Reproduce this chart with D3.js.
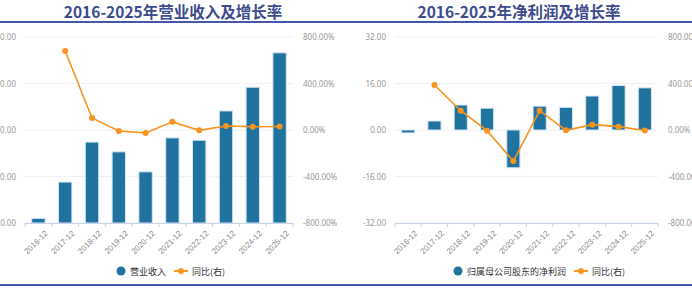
<!DOCTYPE html>
<html>
<head>
<meta charset="utf-8">
<script src="https://cdn.jsdelivr.net/npm/d3@7"></script>
<style>
  body { margin: 0; background: #fff; }
  svg { display: block; font-family: "Noto Sans", "Noto Sans CJK SC", sans-serif; }
</style>
</head>
<body>
<svg id="chart" width="692" height="288"></svg>
<script>
// data
const years = ['2016-12', '2017-12', '2018-12', '2019-12', '2020-12', '2021-12', '2022-12', '2023-12', '2024-12', '2025-12'];
const revenue = [1.0, 8.8, 17.4, 15.3, 11.0, 18.3, 17.8, 24.1, 29.2, 36.6];
const revenueYoY = [null, 680, 103, -8, -25, 70, -3, 35, 28, 30];
const profit = [-1.0, 3.1, 8.6, 7.5, -13.0, 8.2, 7.8, 11.7, 15.3, 14.5];
const profitYoY = [null, 387, 166, -6, -267, 166, -3, 46, 29, -4];
const revTicks = [0, 10, 20, 30, 40];
const profitTicks = [-32, -16, 0, 16, 32];
const pctTicks = [-800, -400, 0, 400, 800];

const blue = '#21739f';
const orange = '#f7931e';
const navy = '#4656a8';

const svg = d3.select('#chart');

// header/footer rules
svg.append('line').attr('x1', 0).attr('x2', 692).attr('y1', 22).attr('y2', 22)
    .attr('stroke', navy).attr('stroke-width', 2);
svg.append('line').attr('x1', 0).attr('x2', 692).attr('y1', 285).attr('y2', 285)
    .attr('stroke', navy).attr('stroke-width', 2);

const panels = [
    { title: '2016-2025年营业收入及增长率', cx: 173, left: 25, right: 293, bars: revenue, line: revenueYoY,
      ticks: revTicks, barName: '营业收入', legendX: 117 },
    { title: '2016-2025年净利润及增长率', cx: 519, left: 395, right: 658, bars: profit, line: profitYoY,
      ticks: profitTicks, barName: '归属母公司股东的净利润', legendX: 454 }
];

const plotTop = 37, plotBottom = 223;

panels.forEach(p => {
    const g = svg.append('g');

    g.append('text')
        .attr('x', p.cx).attr('y', 18)
        .attr('text-anchor', 'middle')
        .attr('font-family', '"Noto Sans CJK SC", sans-serif')
        .attr('font-weight', 'bold')
        .attr('font-size', 15.5)
        .attr('fill', '#3d4c8e')
        .text(p.title);

    const x = d3.scaleBand().domain(years).range([p.left, p.right]);
    const y = d3.scaleLinear().domain(d3.extent(p.ticks)).range([plotBottom, plotTop]);
    const y2 = d3.scaleLinear().domain(d3.extent(pctTicks)).range([plotBottom, plotTop]);

    // grid
    g.selectAll('.grid').data(p.ticks).enter().append('line')
        .attr('x1', p.left).attr('x2', p.right)
        .attr('y1', d => y(d)).attr('y2', d => y(d))
        .attr('stroke', '#eef0f4').attr('stroke-width', 1);

    // left labels
    g.selectAll('.yl').data(p.ticks).enter().append('text')
        .attr('x', p.left - 9).attr('y', d => y(d) + 3)
        .attr('text-anchor', 'end')
        .attr('font-size', 8).attr('fill', '#999')
        .text(d => d.toFixed(2));

    // right labels
    g.selectAll('.yr').data(pctTicks).enter().append('text')
        .attr('x', p.right + 10).attr('y', d => y2(d) + 3)
        .attr('font-size', 8).attr('fill', '#999')
        .text(d => d.toFixed(2) + '%');

    // bars
    const bw = x.bandwidth() * 0.5;
    g.selectAll('.bar').data(p.bars).enter().append('rect')
        .attr('x', (d, i) => x(years[i]) + (x.bandwidth() - bw) / 2)
        .attr('y', d => y(Math.max(0, d)))
        .attr('width', bw)
        .attr('height', d => Math.abs(y(d) - y(0)))
        .attr('fill', blue)
        .attr('stroke', '#d6e6f2').attr('stroke-width', 1);

    // x axis
    const xa = g.append('g').attr('transform', `translate(0,${plotBottom})`)
        .call(d3.axisBottom(x).tickSize(0).tickPadding(4));
    xa.select('.domain').attr('stroke', '#c9d3ee');
    xa.selectAll('.tick text')
        .attr('font-size', 8).attr('fill', '#888')
        .attr('text-anchor', 'end')
        .attr('transform', 'translate(3,4) rotate(-45)');
    const edges = years.map(d => x(d)).concat([p.right]);
    g.selectAll('.xt').data(edges).enter().append('line')
        .attr('x1', d => d).attr('x2', d => d)
        .attr('y1', plotBottom).attr('y2', plotBottom + 4)
        .attr('stroke', '#c9d3ee');

    // yoy line
    const pts = p.line.map((v, i) => ({ v, i })).filter(d => d.v !== null);
    g.append('path').datum(pts)
        .attr('fill', 'none').attr('stroke', orange).attr('stroke-width', 1.6)
        .attr('d', d3.line().x(d => x(years[d.i]) + x.bandwidth() / 2).y(d => y2(d.v)));
    g.selectAll('.dot').data(pts).enter().append('circle')
        .attr('cx', d => x(years[d.i]) + x.bandwidth() / 2)
        .attr('cy', d => y2(d.v))
        .attr('r', 3).attr('fill', orange);

    // legend
    const lg = g.append('g').attr('transform', `translate(${p.legendX},271)`);
    lg.append('circle').attr('cx', 4).attr('cy', 0).attr('r', 4.5).attr('fill', blue);
    const t1 = lg.append('text').attr('x', 13).attr('y', 3.5)
        .attr('font-family', '"Noto Sans CJK SC", sans-serif')
        .attr('font-size', 9).attr('fill', '#333').text(p.barName);
    const w = t1.node().getComputedTextLength();
    const ox = 13 + w + 8;
    lg.append('line').attr('x1', ox).attr('x2', ox + 14).attr('y1', 0).attr('y2', 0)
        .attr('stroke', orange).attr('stroke-width', 2);
    lg.append('circle').attr('cx', ox + 7).attr('cy', 0).attr('r', 3).attr('fill', orange);
    lg.append('text').attr('x', ox + 18).attr('y', 3.5)
        .attr('font-family', '"Noto Sans CJK SC", sans-serif')
        .attr('font-size', 9).attr('fill', '#333').text('同比(右)');
});
</script>
</body>
</html>
